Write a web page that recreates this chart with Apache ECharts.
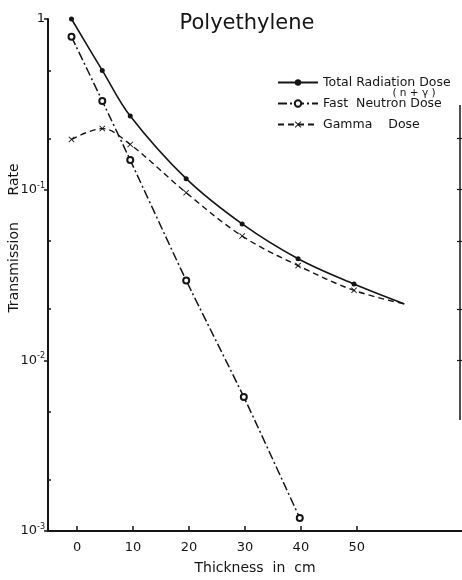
<!DOCTYPE html>
<html>
<head>
<meta charset="utf-8">
<script src="https://cdn.jsdelivr.net/npm/echarts@6/dist/echarts.min.js"></script>
<style>
    html, body { margin: 0; padding: 0; background: #fff; }
    #chart { width: 462px; height: 580px; }
</style>
</head>
<body>
<div id="chart"></div>
<script>
// values (thickness in cm, transmission rate)
var totalX = [-1, 4.5, 9.5, 19.5, 29.5, 39.5, 49.5, 58.5];
var totalY = [1.0, 0.50, 0.27, 0.116, 0.063, 0.0394, 0.028, 0.0214];
var neutronX = [-1, 4.5, 9.5, 19.5, 29.8, 39.8];
var neutronY = [0.787, 0.331, 0.149, 0.0294, 0.0061, 0.00119];
var gammaX = [-1, 4.5, 9.5, 19.5, 29.5, 39.5, 49.5, 58.5];
var gammaY = [0.197, 0.228, 0.184, 0.096, 0.0535, 0.0359, 0.0257, 0.0214];
var xTicks = [0, 10, 20, 30, 40, 50];
var yLabels = [1, 0.1, 0.01, 0.001];
var yMinor = [0.5, 0.2, 0.05, 0.02, 0.005, 0.002];
var ink = '#151515';
var font = 'DejaVu Sans';

// last point of total/gamma is only the end of the drawn curve, no marker
function pairs(xs, ys, openEnd) {
    return xs.map(function (x, i) {
        var item = { value: [x, ys[i]] };
        if (openEnd && i === xs.length - 1) item.symbol = 'none';
        return item;
    });
}

var cross = 'path://M0,1L1,0L5,4L9,0L10,1L6,5L10,9L9,10L5,6L1,10L0,9L4,5Z';

var chart = echarts.init(document.getElementById('chart'));
chart.setOption({
    backgroundColor: '#fff',
    animation: false,
    textStyle: { fontFamily: font, color: ink },
    title: {
        text: 'Polyethylene',
        left: 242,
        top: 8,
        textAlign: 'center',
        textStyle: { fontFamily: font, fontSize: 21, fontWeight: 'normal', color: ink }
    },
    legend: {
        orient: 'vertical',
        left: 272,
        top: 71,
        itemGap: 8,
        itemWidth: 40,
        itemHeight: 8,
        textStyle: { fontFamily: font, fontSize: 12.5, color: ink },
        data: ['Total Radiation Dose', 'Fast  Neutron Dose', 'Gamma    Dose']
    },
    grid: { left: 48, right: 0, top: 19, bottom: 43 },
    xAxis: {
        type: 'value',
        min: -5.2,
        max: 68.8,
        name: 'Thickness  in  cm',
        nameLocation: 'middle',
        nameGap: 30,
        nameTextStyle: { fontFamily: font, fontSize: 14, color: ink },
        splitLine: { show: false },
        axisLine: { onZero: false, lineStyle: { color: ink, width: 2 } },
        axisTick: { inside: true, length: 5, lineStyle: { color: ink, width: 1.5 }, customValues: xTicks },
        axisLabel: { fontFamily: font, fontSize: 13, color: ink, margin: 10, customValues: xTicks }
    },
    yAxis: [{
        type: 'log',
        min: 0.001,
        max: 1,
        splitLine: { show: false },
        axisLine: { show: true, onZero: false, lineStyle: { color: ink, width: 2 } },
        axisTick: { length: 4, lineStyle: { color: ink, width: 1.5 }, customValues: yLabels },
        axisLabel: {
            margin: 3,
            customValues: yLabels,
            formatter: function (v) {
                if (v >= 1) return '{b|1}';
                return '{b|10}{s|-' + Math.round(-Math.log10(v)) + '}';
            },
            rich: {
                b: { fontFamily: font, fontSize: 13, color: ink },
                s: { fontFamily: font, fontSize: 8, color: ink, padding: [0, 0, 8, 0] }
            }
        }
    }, {
        type: 'log',
        min: 0.001,
        max: 1,
        position: 'left',
        splitLine: { show: false },
        axisLine: { show: false, onZero: false },
        axisLabel: { show: false },
        axisTick: { inside: true, length: 3, lineStyle: { color: ink, width: 1.5 }, customValues: yMinor }
    }, {
        type: 'log',
        min: 0.001,
        max: 1,
        position: 'right',
        splitLine: { show: false },
        axisLine: { show: false, onZero: false },
        axisLabel: { show: false },
        axisTick: { inside: true, length: 5, lineStyle: { color: ink, width: 1.2 }, customValues: [0.2, 0.1, 0.05, 0.02, 0.01] }
    }],
    graphic: [{
        type: 'line',
        shape: { x1: 460, y1: 105, x2: 460, y2: 420 },
        style: { stroke: ink, lineWidth: 1.5 }
    }, {
        type: 'text',
        x: 14,
        y: 238,
        rotation: Math.PI / 2,
        style: {
            text: 'Transmission      Rate',
            fontFamily: font,
            fontSize: 14,
            fill: ink,
            align: 'center',
            verticalAlign: 'middle'
        }
    }, {
        type: 'text',
        x: 414,
        y: 93,
        style: {
            text: '( n + γ )',
            fontFamily: font,
            fontSize: 10.5,
            fill: ink,
            align: 'center',
            verticalAlign: 'middle'
        }
    }],
    series: [{
        name: 'Total Radiation Dose',
        type: 'line',
        smooth: 0.35,
        symbol: 'circle',
        symbolSize: 5,
        itemStyle: { color: ink },
        lineStyle: { color: ink, width: 1.6, type: 'solid' },
        data: pairs(totalX, totalY, true)
    }, {
        name: 'Fast  Neutron Dose',
        type: 'line',
        smooth: 0.2,
        symbol: 'emptyCircle',
        symbolSize: 6,
        itemStyle: { color: ink, borderColor: ink, borderWidth: 1.3 },
        lineStyle: { color: ink, width: 1.5, type: [9, 3, 2, 3] },
        data: pairs(neutronX, neutronY, false)
    }, {
        name: 'Gamma    Dose',
        type: 'line',
        smooth: 0.35,
        symbol: cross,
        symbolSize: 6,
        itemStyle: { color: ink },
        lineStyle: { color: ink, width: 1.4, type: [6, 4] },
        data: pairs(gammaX, gammaY, true)
    }]
});
</script>
</body>
</html>
